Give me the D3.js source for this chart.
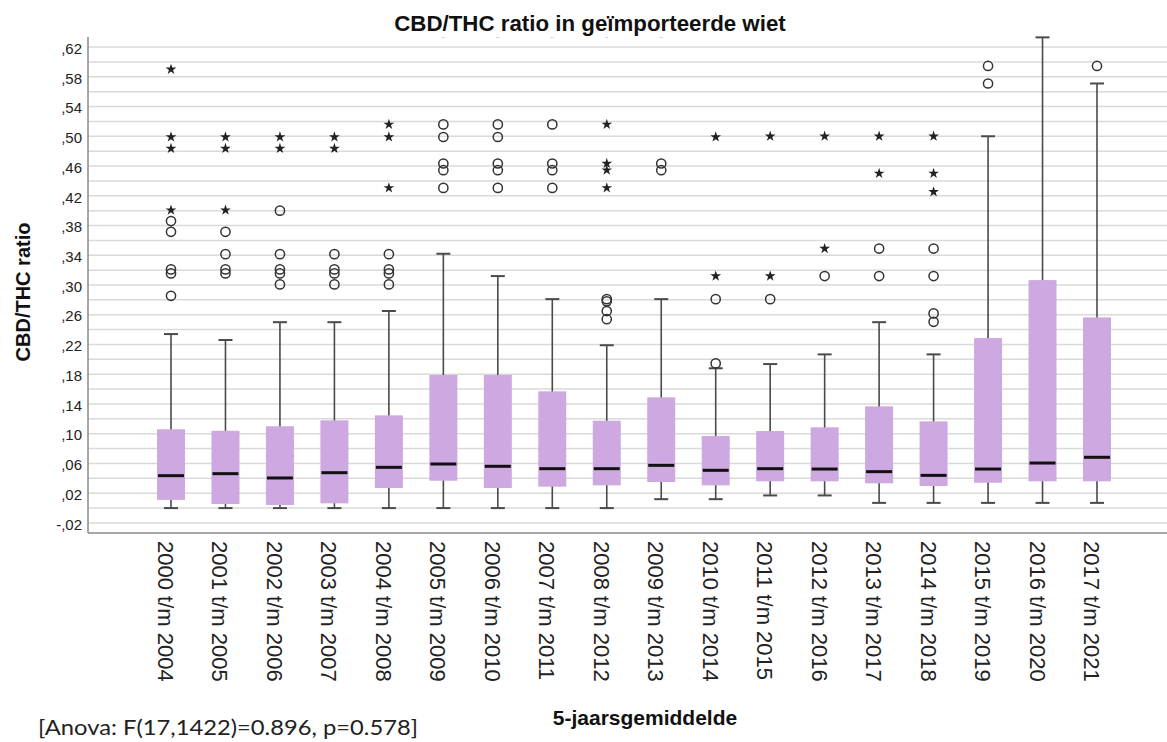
<!DOCTYPE html>
<html>
<head>
<meta charset="utf-8">
<script src="https://cdn.jsdelivr.net/npm/d3@7"></script>
<style>
  body { margin: 0; background: #fff; }
  svg { display: block; font-family: "Liberation Sans", Arial, sans-serif; }
</style>
</head>
<body>
<div id="vis"></div>
<script>
const categories = ["2000 t/m 2004", "2001 t/m 2005", "2002 t/m 2006", "2003 t/m 2007", "2004 t/m 2008",
  "2005 t/m 2009", "2006 t/m 2010", "2007 t/m 2011", "2008 t/m 2012", "2009 t/m 2013",
  "2010 t/m 2014", "2011 t/m 2015", "2012 t/m 2016", "2013 t/m 2017", "2014 t/m 2018",
  "2015 t/m 2019", "2016 t/m 2020", "2017 t/m 2021"];

const whiskerLow  = [0, 0, 0, 0, 0, 0, 0, 0, 0, 0.012, 0.012, 0.017, 0.017, 0.007, 0.007, 0.007, 0.007, 0.007];
const q1          = [0.011, 0.0055, 0.0042, 0.0064, 0.027, 0.0368, 0.027, 0.0288, 0.0306, 0.035, 0.0306, 0.036, 0.036, 0.0333, 0.0297, 0.0341, 0.036, 0.036];
const medians     = [0.0436, 0.0463, 0.0405, 0.0476, 0.0548, 0.0593, 0.0562, 0.053, 0.053, 0.0575, 0.0508, 0.053, 0.0525, 0.049, 0.044, 0.0525, 0.0606, 0.0683];
const q3          = [0.106, 0.104, 0.110, 0.118, 0.1247, 0.179, 0.179, 0.157, 0.1175, 0.149, 0.097, 0.1036, 0.1086, 0.1368, 0.1166, 0.2286, 0.3066, 0.2564];
const whiskerHigh = [0.234, 0.226, 0.250, 0.250, 0.265, 0.342, 0.312, 0.281, 0.219, 0.281, 0.188, 0.1937, 0.2067, 0.250, 0.2067, 0.500, 0.633, 0.571];

// outliers (o) and extremes (*) per category
const outlierCircles = [
  [0.386, 0.3715, 0.321, 0.3156, 0.2855],
  [0.3715, 0.3415, 0.321, 0.3156],
  [0.40, 0.3415, 0.321, 0.3156, 0.3008],
  [0.3415, 0.321, 0.3156, 0.3008],
  [0.3415, 0.321, 0.3156, 0.3008],
  [0.516, 0.499, 0.4634, 0.4544, 0.4306],
  [0.516, 0.499, 0.4634, 0.4544, 0.4306],
  [0.516, 0.4634, 0.4544, 0.4306],
  [0.281, 0.278, 0.265, 0.254],
  [0.4634, 0.4544],
  [0.281, 0.1946],
  [0.281],
  [0.312],
  [0.349, 0.312],
  [0.349, 0.312, 0.2618, 0.2505],
  [0.5946, 0.571],
  [],
  [0.5946]
];
const outlierStars = [
  [0.590, 0.499, 0.4836, 0.4006],
  [0.499, 0.4836, 0.4006],
  [0.499, 0.4836],
  [0.499, 0.4836],
  [0.516, 0.499, 0.4306],
  [], [], [],
  [0.516, 0.4634, 0.4544, 0.4306],
  [],
  [0.499, 0.312],
  [0.5, 0.312],
  [0.5, 0.349],
  [0.5, 0.450],
  [0.5, 0.450, 0.4253],
  [], [], []
];

const yTicks = [-0.02, 0.02, 0.06, 0.10, 0.14, 0.18, 0.22, 0.26, 0.30, 0.34, 0.38, 0.42, 0.46, 0.50, 0.54, 0.58, 0.62];
const gridValues = d3.range(-2, 63, 2).map(d => d / 100);

const W = 1167, H = 742;
const svg = d3.select("#vis").append("svg").attr("width", W).attr("height", H);

const y = d3.scaleLinear().domain([-0.0335, 0.6335]).range([533, 37]);
const x = d3.scalePoint().domain(categories).range([171, 1097]);
const axisLeftX = 88;

// grid lines
svg.append("g").selectAll("line").data(gridValues).join("line")
  .attr("x1", axisLeftX).attr("x2", W)
  .attr("y1", d => y(d)).attr("y2", d => y(d))
  .attr("stroke", "#dadada").attr("stroke-width", 1.5);

// axis lines
svg.append("line").attr("x1", axisLeftX).attr("x2", axisLeftX).attr("y1", 37).attr("y2", 533)
  .attr("stroke", "#8a8a8a").attr("stroke-width", 1.5);
svg.append("line").attr("x1", axisLeftX).attr("x2", W).attr("y1", 533).attr("y2", 533)
  .attr("stroke", "#8a8a8a").attr("stroke-width", 1.5);

// y tick labels
const fmt = v => {
  const s = Math.abs(v).toFixed(2).replace("0.", ",");
  return v < 0 ? "-" + s : s;
};
svg.append("g").selectAll("text").data(yTicks).join("text")
  .attr("x", 82).attr("y", d => y(d)).attr("dy", "0.45em")
  .attr("text-anchor", "end").attr("font-size", 15).attr("fill", "#222")
  .text(fmt);

const boxes = categories.map((c, i) => ({
  c, lo: whiskerLow[i], q1: q1[i], med: medians[i], q3: q3[i], hi: whiskerHigh[i]
}));
const bw = 28, cap = 14;

const g = svg.append("g");
// whiskers
g.selectAll(".stem").data(boxes).join("line")
  .attr("x1", d => x(d.c)).attr("x2", d => x(d.c))
  .attr("y1", d => y(d.lo)).attr("y2", d => y(d.hi))
  .attr("stroke", "#4a4a4a").attr("stroke-width", 1.6);
g.selectAll(".capHi").data(boxes).join("line")
  .attr("x1", d => x(d.c) - cap / 2).attr("x2", d => x(d.c) + cap / 2)
  .attr("y1", d => y(d.hi)).attr("y2", d => y(d.hi))
  .attr("stroke", "#4a4a4a").attr("stroke-width", 2);
g.selectAll(".capLo").data(boxes).join("line")
  .attr("x1", d => x(d.c) - cap / 2).attr("x2", d => x(d.c) + cap / 2)
  .attr("y1", d => y(d.lo)).attr("y2", d => y(d.lo))
  .attr("stroke", "#4a4a4a").attr("stroke-width", 2);
// boxes
g.selectAll(".box").data(boxes).join("rect")
  .attr("x", d => x(d.c) - bw / 2).attr("width", bw)
  .attr("y", d => y(d.q3)).attr("height", d => y(d.q1) - y(d.q3))
  .attr("fill", "#cea8e0");
// medians
g.selectAll(".med").data(boxes).join("line")
  .attr("x1", d => x(d.c) - bw / 2 + 1).attr("x2", d => x(d.c) + bw / 2 - 1)
  .attr("y1", d => y(d.med)).attr("y2", d => y(d.med))
  .attr("stroke", "#111").attr("stroke-width", 3);

// outliers
const circ = categories.flatMap((c, i) => outlierCircles[i].map(v => ({ c, v })));
const stars = categories.flatMap((c, i) => outlierStars[i].map(v => ({ c, v })));
g.selectAll(".oc").data(circ).join("circle")
  .attr("cx", d => x(d.c)).attr("cy", d => y(d.v)).attr("r", 4.6)
  .attr("fill", "none").attr("stroke", "#333").attr("stroke-width", 1.5);
g.selectAll(".os").data(stars).join("path")
  .attr("transform", d => `translate(${x(d.c)},${y(d.v)})`)
  .attr("d", d3.symbol(d3.symbolStar, 36))
  .attr("fill", "#222");

// small clipped label marks under title
svg.append("g").selectAll("text").data(categories.slice(5, 10)).join("text")
  .attr("x", d => x(d)).attr("y", 43).attr("text-anchor", "middle")
  .attr("font-size", 9).attr("fill", "#aaa").text("¨");

// x tick labels (rotated)
svg.append("g").selectAll("text").data(categories).join("text")
  .attr("transform", d => `translate(${x(d) - 13},541) rotate(90)`)
  .attr("font-size", 22).attr("fill", "#222")
  .text(d => d);

// titles
svg.append("text").attr("x", 590).attr("y", 31).attr("text-anchor", "middle")
  .attr("font-size", 22.3).attr("font-weight", "bold").attr("fill", "#111")
  .text("CBD/THC ratio in geïmporteerde wiet");
svg.append("text").attr("transform", "translate(30,292) rotate(-90)")
  .attr("text-anchor", "middle").attr("font-size", 20).attr("font-weight", "bold").attr("fill", "#111")
  .text("CBD/THC ratio");
svg.append("text").attr("x", 645).attr("y", 725).attr("text-anchor", "middle")
  .attr("font-size", 21).attr("font-weight", "bold").attr("fill", "#111")
  .text("5-jaarsgemiddelde");
svg.append("text").attr("x", 38).attr("y", 735)
  .attr("font-family", "Lato, 'Open Sans', sans-serif").attr("font-size", 21).attr("fill", "#222")
  .attr("textLength", 380).attr("lengthAdjust", "spacingAndGlyphs")
  .text("[Anova: F(17,1422)=0.896, p=0.578]");
</script>
</body>
</html>
